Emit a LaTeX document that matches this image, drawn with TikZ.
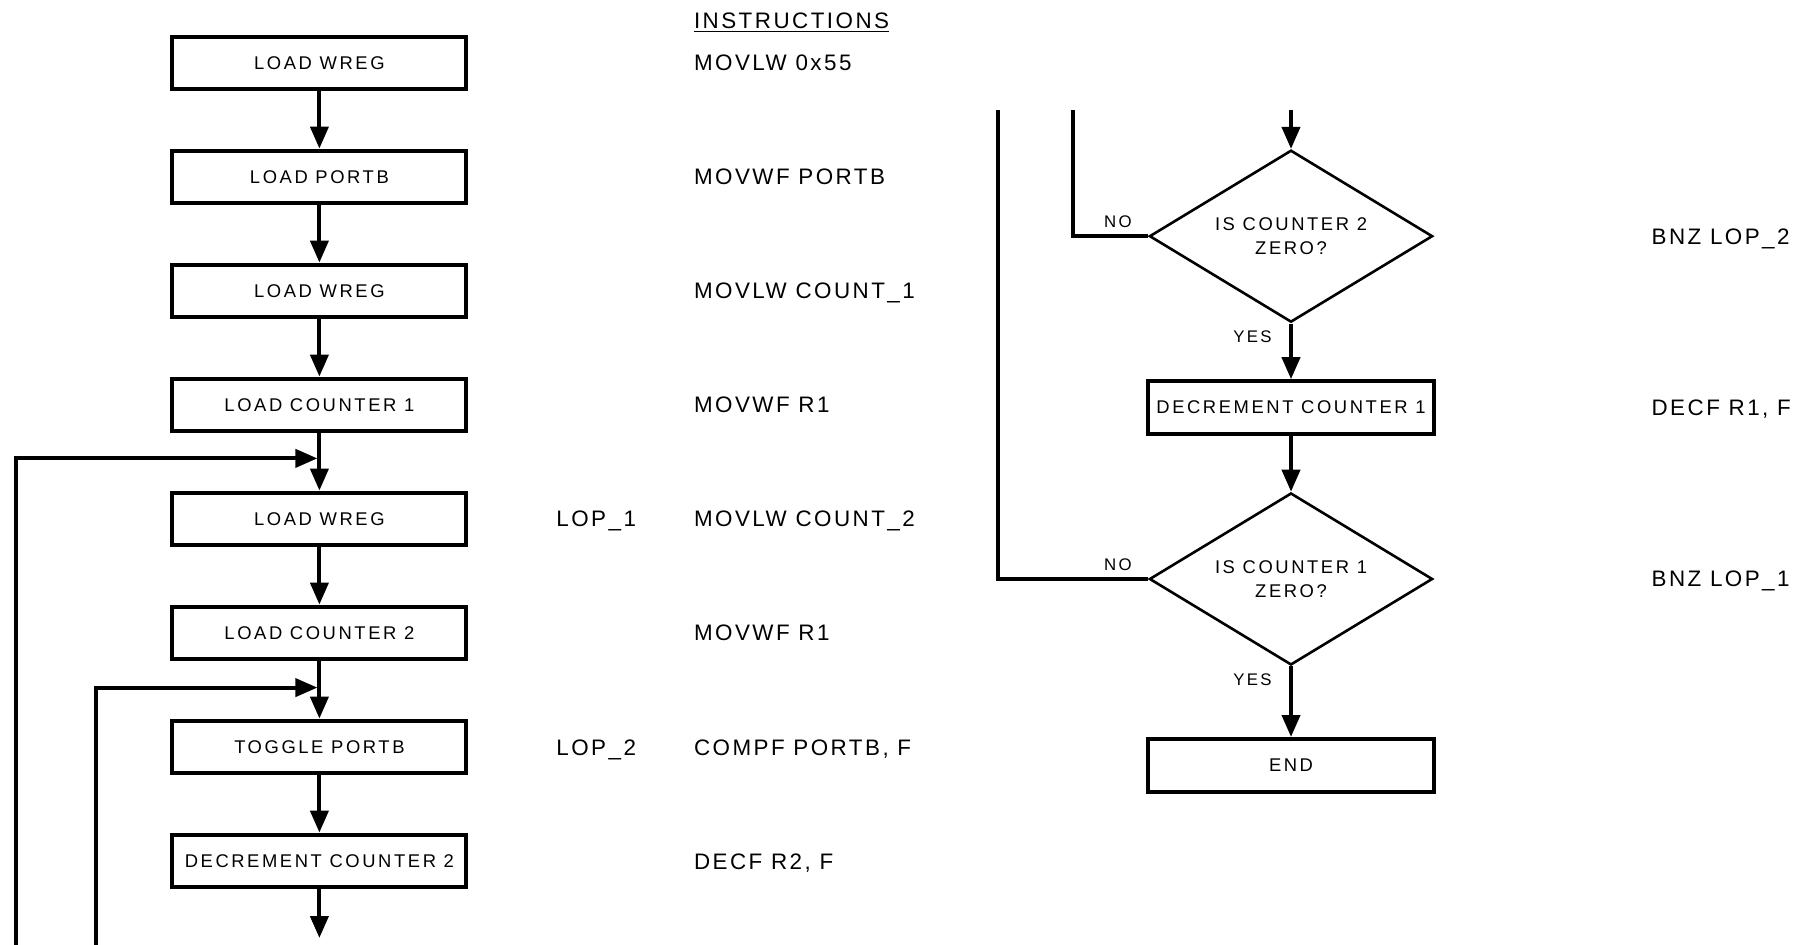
\documentclass[tikz,border=0pt]{standalone}
\usepackage{fontspec}
\setmainfont{Liberation Sans}
\usepackage{tikz}
\usetikzlibrary{arrows.meta,positioning,shapes.geometric,calc}
\newfontfamily\boxfont[LetterSpace=14]{Liberation Sans}
\newfontfamily\codefont[LetterSpace=11]{Liberation Sans}

\begin{document}
\begin{tikzpicture}[
    box/.style={rectangle, draw=black, line width=2pt, minimum width=147pt,
                minimum height=26.4pt, inner sep=0pt, align=center,
                font=\boxfont\fontsize{9.2}{12}\selectfont},
    decision/.style={diamond, draw=black, line width=1.3pt, shape aspect=1.65,
                minimum width=141.6pt, minimum height=86pt, inner sep=0pt, align=center,
                font=\boxfont\fontsize{9.2}{12}\selectfont},
    code/.style={anchor=west, inner sep=0pt, text height=8pt, text depth=0pt,
                font=\codefont\fontsize{11.2}{13}\selectfont},
    lbl/.style={inner sep=0pt, font=\boxfont\fontsize{8.4}{10}\selectfont},
    arrow/.style={-{Triangle[length=11pt, width=9pt]}, line width=2pt},
    line/.style={line width=2pt},
    node distance=28.6pt
]
  \useasboundingbox (0,0) rectangle (899pt,-472.5pt);

  % Left column
  \node[box] (wreg1) at (159.7pt,-31.5pt) {LOAD WREG};
  \node[box, below=of wreg1] (portb) {LOAD PORTB};
  \node[box, below=of portb] (wreg2) {LOAD WREG};
  \node[box, below=of wreg2] (cnt1) {LOAD COUNTER 1};
  \node[box, below=of cnt1] (wreg3) {LOAD WREG};
  \node[box, below=of wreg3] (cnt2) {LOAD COUNTER 2};
  \node[box, below=of cnt2] (toggle) {TOGGLE PORTB};
  \node[box, below=of toggle] (dec2) {DECREMENT COUNTER 2};

  % Right column
  \node[decision] (zero2) at (645.5pt,-118.1pt) {IS COUNTER 2\\ZERO?};
  \node[box, minimum width=142.8pt, below=27.85pt of zero2] (dec1) {DECREMENT COUNTER 1};
  \node[decision, below=27.85pt of dec1] (zero1) {IS COUNTER 1\\ZERO?};
  \node[box, minimum width=142.8pt, below=35.35pt of zero1] (end) {END};

  % Loop ends
  \coordinate[below=12.5pt of cnt1.south] (lop1);
  \coordinate[below=13.1pt of cnt2.south] (lop2);
  \coordinate (back1) at (8pt,-472.5pt);
  \coordinate (back2) at (48.2pt,-472.5pt);
  \coordinate (down) at (159.7pt,-469pt);
  \coordinate (up1) at (498.8pt,-55pt);
  \coordinate (up2) at (536.6pt,-55pt);
  \coordinate (into) at (645.5pt,-55pt);

  % Instructions
  \coordinate (codecol) at (346.8pt,0);
  \coordinate (lopcol) at (278pt,0);
  \coordinate (rcol) at (825.6pt,0);
  \node[code, anchor=base west] (title) at (346.8pt,-14.2pt) {\underline{INSTRUCTIONS}};
  \node[code] (i1) at (codecol |- wreg1) {MOVLW 0x55};
  \node[code] (i2) at (codecol |- portb) {MOVWF PORTB};
  \node[code] (i3) at (codecol |- wreg2) {MOVLW COUNT\_1};
  \node[code] (i4) at (codecol |- cnt1) {MOVWF R1};
  \node[code] (i5) at (codecol |- wreg3) {MOVLW COUNT\_2};
  \node[code] (i6) at (codecol |- cnt2) {MOVWF R1};
  \node[code] (i7) at (codecol |- toggle) {COMPF PORTB, F};
  \node[code] (i8) at (codecol |- dec2) {DECF R2, F};
  \node[code] (l1) at (lopcol |- wreg3) {LOP\_1};
  \node[code] (l2) at (lopcol |- toggle) {LOP\_2};
  \node[code] (i9) at (rcol |- zero2) {BNZ LOP\_2};
  \node[code] (i10) at (rcol |- dec1) {DECF R1, F};
  \node[code] (i11) at (rcol |- zero1) {BNZ LOP\_1};

  % Branch labels
  \node[lbl, above left=4pt and 8pt of zero2.west] (no2) {NO};
  \node[lbl, below left=3.4pt and 9.5pt of zero2.south] (yes2) {YES};
  \node[lbl, above left=4pt and 8pt of zero1.west] (no1) {NO};
  \node[lbl, below left=3.4pt and 9.5pt of zero1.south] (yes1) {YES};

  % Arrows
  \draw[arrow] (wreg1) -- (portb);
  \draw[arrow] (portb) -- (wreg2);
  \draw[arrow] (wreg2) -- (cnt1);
  \draw[arrow] (cnt1) -- (wreg3);
  \draw[arrow] (wreg3) -- (cnt2);
  \draw[arrow] (cnt2) -- (toggle);
  \draw[arrow] (toggle) -- (dec2);
  \draw[arrow] (dec2) -- (down);
  \draw[arrow, shorten >=1pt] (back1) |- (lop1);
  \draw[arrow, shorten >=1pt] (back2) |- (lop2);

  \draw[arrow] (into) -- (zero2);
  \draw[line] (zero2.west) -| (up2);
  \draw[arrow] (zero2) -- (dec1);
  \draw[arrow] (dec1) -- (zero1);
  \draw[line] (zero1.west) -| (up1);
  \draw[arrow] (zero1) -- (end);

\end{tikzpicture}
\end{document}
